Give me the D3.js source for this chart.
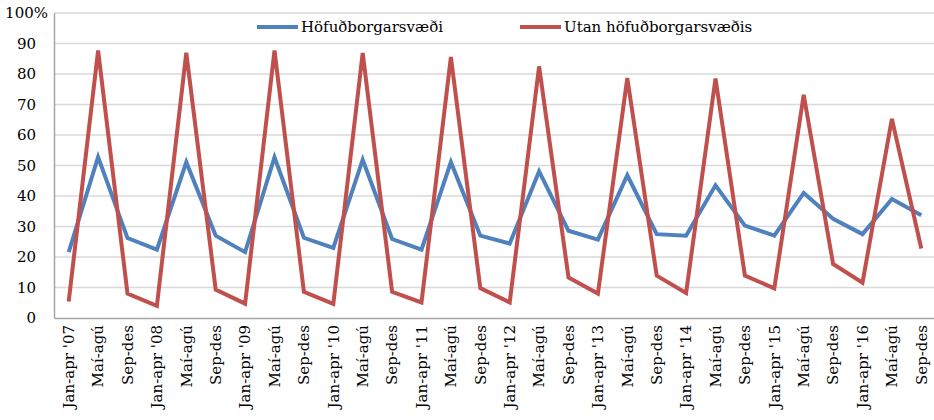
<!DOCTYPE html>
<html>
<head>
<meta charset="utf-8">
<script src="https://cdn.jsdelivr.net/npm/d3@7"></script>
<style>
  html, body { margin: 0; padding: 0; background: #fff; }
  svg { display: block; font-family: "Palatino Linotype", "Book Antiqua", Palatino, "DejaVu Serif", serif; }
</style>
</head>
<body>
<div id="chart"></div>
<script>
var periods = ["Jan-apr '07", "Maí-agú", "Sep-des",
    "Jan-apr '08", "Maí-agú", "Sep-des",
    "Jan-apr '09", "Maí-agú", "Sep-des",
    "Jan-apr '10", "Maí-agú", "Sep-des",
    "Jan-apr '11", "Maí-agú", "Sep-des",
    "Jan-apr '12", "Maí-agú", "Sep-des",
    "Jan-apr '13", "Maí-agú", "Sep-des",
    "Jan-apr '14", "Maí-agú", "Sep-des",
    "Jan-apr '15", "Maí-agú", "Sep-des",
    "Jan-apr '16", "Maí-agú", "Sep-des"];

var hofudborg = [21.6, 52.8, 26.2, 22.4, 51.1, 27.0, 21.6, 52.7, 26.3,
    23.0, 51.9, 25.9, 22.4, 51.1, 27.0, 24.4, 48.1, 28.6,
    25.7, 46.8, 27.5, 27.0, 43.5, 30.3, 27.0, 41.0, 32.5,
    27.5, 39.0, 33.7];

var utan = [5.4, 87.7, 8.0, 4.0, 87.0, 9.3, 4.7, 87.7, 8.6,
    4.6, 86.9, 8.6, 5.1, 85.6, 9.8, 5.1, 82.5, 13.3,
    8.0, 78.7, 13.9, 8.2, 78.5, 13.9, 9.7, 73.2, 17.7,
    11.6, 65.3, 22.8];

var seriesNames = ["Höfuðborgarsvæði", "Utan höfuðborgarsvæðis"];
var seriesColors = ["#4F81BD", "#C0504D"];
var yTicks = [0, 10, 20, 30, 40, 50, 60, 70, 80, 90, 100];

var width = 934, height = 420;
var margin = {top: 13, right: -2, bottom: 102, left: 54};
var fontSize = '15px';

var svg = d3.select('#chart').append('svg')
    .attr('width', width)
    .attr('height', height);

var x = d3.scaleBand()
    .domain(d3.range(periods.length))
    .range([margin.left, width - margin.right]);

var y = d3.scaleLinear()
    .domain([0, 100])
    .range([height - margin.bottom, margin.top]);

// gridlines
svg.append('g')
    .selectAll('line')
    .data(yTicks.filter(d => d > 0))
    .enter().append('line')
    .attr('x1', margin.left)
    .attr('x2', width)
    .attr('y1', d => y(d))
    .attr('y2', d => y(d))
    .attr('stroke', '#d9d9d9')
    .attr('stroke-width', 1.5);

// y axis
var yAxis = svg.append('g')
    .attr('transform', 'translate(' + margin.left + ',0)')
    .call(d3.axisLeft(y).tickValues(yTicks).tickSize(0).tickPadding(18)
        .tickFormat(d => d === 100 ? '100%' : d))
    .attr('font-family', null)
    .attr('font-size', null);
yAxis.select('path').attr('stroke', '#a6a6a6').attr('stroke-width', 1.5);
yAxis.selectAll('text')
    .attr('fill', '#000')
    .style('font-size', fontSize);
yAxis.selectAll('.tick')
    .filter(d => d === 100)
    .select('text')
    .attr('x', -6);

// x axis
var xAxis = svg.append('g')
    .attr('transform', 'translate(0,' + y(0) + ')')
    .call(d3.axisBottom(x).tickSize(0).tickFormat(i => periods[i]))
    .attr('font-family', null)
    .attr('font-size', null);
xAxis.select('path').attr('stroke', '#a6a6a6').attr('stroke-width', 1.5);
xAxis.selectAll('text')
    .attr('fill', '#000')
    .style('font-size', fontSize)
    .attr('text-anchor', 'end')
    .attr('dy', '0.35em')
    .attr('transform', 'translate(0,7) rotate(-90)')
    .attr('x', 0)
    .attr('y', 0);

// lines
var line = d3.line()
    .x((d, i) => x(i) + x.bandwidth() / 2)
    .y(d => y(d));

[hofudborg, utan].forEach((values, i) => {
    svg.append('path')
        .attr('fill', 'none')
        .attr('stroke', seriesColors[i])
        .attr('stroke-width', 4)
        .attr('stroke-linejoin', 'miter')
        .attr('d', line(values));
});

// legend
var legendX = [257, 520];
var legend = svg.append('g');
seriesNames.forEach((name, i) => {
    var g = legend.append('g')
        .attr('transform', 'translate(' + legendX[i] + ',27)');
    g.append('line')
        .attr('x1', 0).attr('x2', 41)
        .attr('stroke', seriesColors[i])
        .attr('stroke-width', 4);
    g.append('text')
        .attr('x', 44)
        .attr('dy', '0.35em')
        .style('font-size', fontSize)
        .text(name);
});
</script>
</body>
</html>
